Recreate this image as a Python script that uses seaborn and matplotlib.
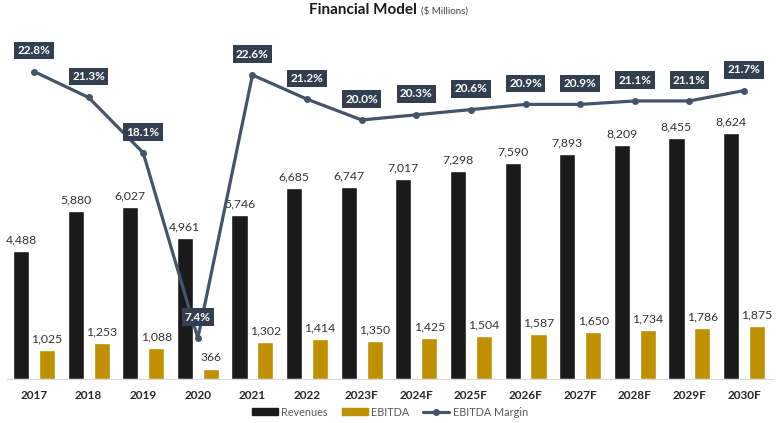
import seaborn as sns
import matplotlib.pyplot as plt
import pandas as pd
import numpy as np
from matplotlib.patches import Patch
from matplotlib.lines import Line2D

# ----------------------------
# Data
# ----------------------------
years = ["2017", "2018", "2019", "2020", "2021", "2022", "2023F", "2024F",
         "2025F", "2026F", "2027F", "2028F", "2029F", "2030F"]
revenues = [4488, 5880, 6027, 4961, 5746, 6685, 6747, 7017, 7298, 7590, 7893, 8209, 8455, 8624]
ebitda = [1025, 1253, 1088, 366, 1302, 1414, 1350, 1425, 1504, 1587, 1650, 1734, 1786, 1875]
margin = [22.8, 21.3, 18.1, 7.4, 22.6, 21.2, 20.0, 20.3, 20.6, 20.9, 20.9, 21.1, 21.1, 21.7]

df = pd.DataFrame({
    "Year": years * 2,
    "Metric": ["Revenues"] * len(years) + ["EBITDA"] * len(years),
    "Value": revenues + ebitda,
})

# ----------------------------
# Styling
# ----------------------------
sns.set_style("white")
plt.rcParams["font.family"] = ["Lato", "DejaVu Sans"]

c_rev = "#1a1a1a"
c_ebit = "#bf9000"
c_line = "#44546a"
c_box = "#333f50"

fig = plt.figure(figsize=(7.8, 4.23), dpi=100)
ax = fig.add_axes([7 / 780, 1 - 379 / 423, 766 / 780, 349 / 423])

sns.barplot(
    data=df, x="Year", y="Value", hue="Metric", order=years,
    hue_order=["Revenues", "EBITDA"], palette=[c_rev, c_ebit], saturation=1,
    width=0.95, gap=0.38, ax=ax, legend=False,
)
ax.set_xlim(-0.494, len(years) - 0.47)
ax.set_ylim(0, 12240)
ax.set_yticks([])
ax.set_xlabel("")
ax.set_ylabel("")
for s in ["top", "left", "right"]:
    ax.spines[s].set_visible(False)
ax.spines["bottom"].set_color("#d9d9d9")
ax.tick_params(axis="x", length=0, pad=8, labelsize=8.5)
for t in ax.get_xticklabels():
    t.set_fontweight("bold")

# value labels on bars
for cont in ax.containers:
    ax.bar_label(cont, labels=[f"{int(v.get_height()):,}" for v in cont],
                 padding=4, fontsize=8.8, color="#333333")

# ----------------------------
# EBITDA margin line
# ----------------------------
ax2 = ax.twinx()
sns.lineplot(x=np.arange(len(years)), y=margin, ax=ax2, color=c_line,
             linewidth=2.3, marker="o", markersize=5, markeredgewidth=0)
ax2.set_ylim(5.03, 25.2)
ax2.set_yticks([])
ax2.set_ylabel("")
for s in ax2.spines.values():
    s.set_visible(False)

for i, m in enumerate(margin):
    ax2.annotate(f"{m:.1f}%", (i, m), xytext=(0, 15), textcoords="offset points",
                 ha="center", va="center", fontsize=8.5, fontweight="bold",
                 color="white",
                 bbox=dict(boxstyle="square,pad=0.28", fc=c_box, ec="none"))

# ----------------------------
# Title and legend
# ----------------------------
fig.text(417 / 780, 1 - 10 / 423, "Financial Model", ha="right", va="center",
         fontsize=11, fontweight="bold", color="#1a1a1a")
fig.text(421 / 780, 1 - 11 / 423, "($ Millions)", ha="left", va="center",
         fontsize=7, color="#404040")

handles = [
    Patch(color=c_rev, label="Revenues"),
    Patch(color=c_ebit, label="EBITDA"),
    Line2D([0], [0], color=c_line, lw=2.3, marker="o", markersize=4, label="EBITDA Margin"),
]
fig.legend(handles=handles, loc="center", bbox_to_anchor=(0.5, 1 - 412 / 423),
           ncol=3, frameon=False, fontsize=7.8, labelcolor="#595959",
           handlelength=2.4, handleheight=0.6, handletextpad=0.3, columnspacing=1.3)

plt.savefig("out.png", dpi=100)
plt.close()
